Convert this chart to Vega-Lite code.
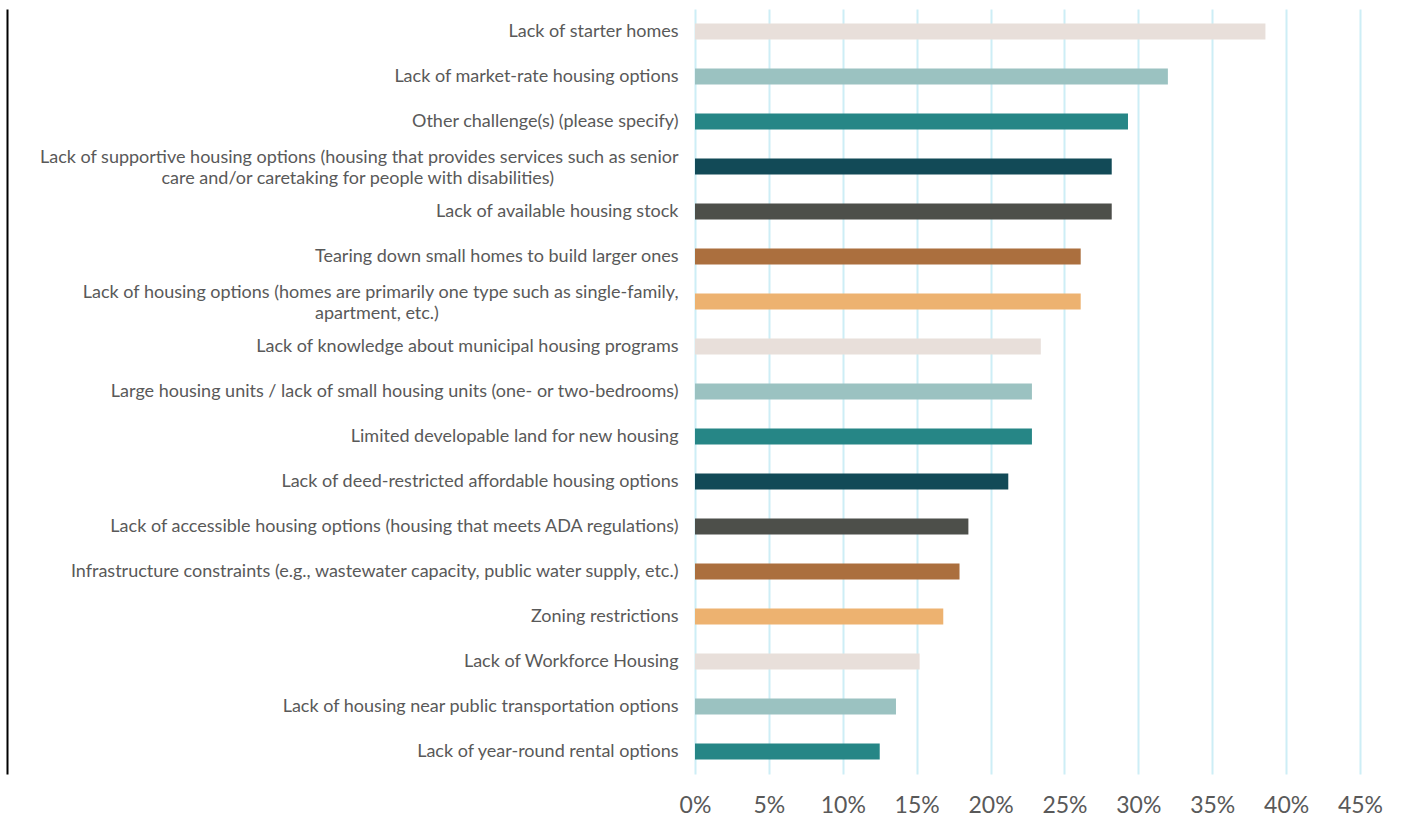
{
  "$schema": "https://vega.github.io/schema/vega-lite/v6.json",
  "width": 665,
  "height": 765,
  "autosize": "none",
  "padding": {"left": 695, "top": 9, "right": 51, "bottom": 58},
  "background": "white",
  "config": {
    "view": {"stroke": null},
    "font": "Lato"
  },
  "data": {
    "values": [
      {"challenge": "Lack of starter homes", "share": 0.386},
      {"challenge": "Lack of market-rate housing options", "share": 0.320},
      {"challenge": "Other challenge(s) (please specify)", "share": 0.293},
      {"challenge": "Lack of supportive housing options (housing that provides services such as senior|care and/or caretaking for people with disabilities)", "share": 0.282},
      {"challenge": "Lack of available housing stock", "share": 0.282},
      {"challenge": "Tearing down small homes to build larger ones", "share": 0.261},
      {"challenge": "Lack of housing options (homes are primarily one type such as single-family,|apartment, etc.)", "share": 0.261},
      {"challenge": "Lack of knowledge about municipal housing programs", "share": 0.234},
      {"challenge": "Large housing units / lack of small housing units (one- or two-bedrooms)", "share": 0.228},
      {"challenge": "Limited developable land for new housing", "share": 0.228},
      {"challenge": "Lack of deed-restricted affordable housing options", "share": 0.212},
      {"challenge": "Lack of accessible housing options (housing that meets ADA regulations)", "share": 0.185},
      {"challenge": "Infrastructure constraints (e.g., wastewater capacity, public water supply, etc.)", "share": 0.179},
      {"challenge": "Zoning restrictions", "share": 0.168},
      {"challenge": "Lack of Workforce Housing", "share": 0.152},
      {"challenge": "Lack of housing near public transportation options", "share": 0.136},
      {"challenge": "Lack of year-round rental options", "share": 0.125}
    ]
  },
  "mark": {"type": "bar"},
  "encoding": {
    "y": {
      "field": "challenge",
      "type": "nominal",
      "sort": null,
      "scale": {"paddingInner": 0.644, "paddingOuter": 0.322},
      "axis": {
        "title": null,
        "ticks": false,
        "domain": true,
        "domainColor": "#000000",
        "domainWidth": 2,
        "offset": 688,
        "labelPadding": -671,
        "labelFont": "Lato",
        "labelFontSize": 18,
        "labelColor": "#595959",
        "labelLimit": 0,
        "labelLineHeight": 21,
        "labelOffset": {"condition": {"test": "indexof(datum.value, '|') >= 0", "value": -9}, "value": 0},
        "labelExpr": "indexof(datum.label, '|') >= 0 ? [split(datum.label, '|')[0], pad(split(datum.label, '|')[1], length(split(datum.label, '|')[1]) + (indexof(datum.label, 'senior') >= 0 ? 27 : 52), '\u00a0') + '\u200b'] : datum.label"
      }
    },
    "x": {
      "field": "share",
      "type": "quantitative",
      "scale": {"domain": [0, 0.45], "nice": false},
      "axis": {
        "title": null,
        "values": [0, 0.05, 0.1, 0.15, 0.2, 0.25, 0.3, 0.35, 0.4, 0.45],
        "format": ".0%",
        "domain": false,
        "ticks": false,
        "grid": true,
        "gridColor": "#CDEEF6",
        "gridWidth": 2,
        "labelFont": "Lato",
        "labelFontSize": 23,
        "labelColor": "#595959",
        "labelPadding": 20,
        "labelFlush": false
      }
    },
    "color": {
      "field": "challenge",
      "type": "nominal",
      "sort": null,
      "legend": null,
      "scale": {
        "range": ["#E8DFDA", "#9BC2C1", "#268686", "#124A57", "#4D4F4A", "#AB6F3E", "#EDB270", "#E8DFDA", "#9BC2C1", "#268686", "#124A57", "#4D4F4A", "#AB6F3E", "#EDB270", "#E8DFDA", "#9BC2C1", "#268686"]
      }
    }
  }
}
